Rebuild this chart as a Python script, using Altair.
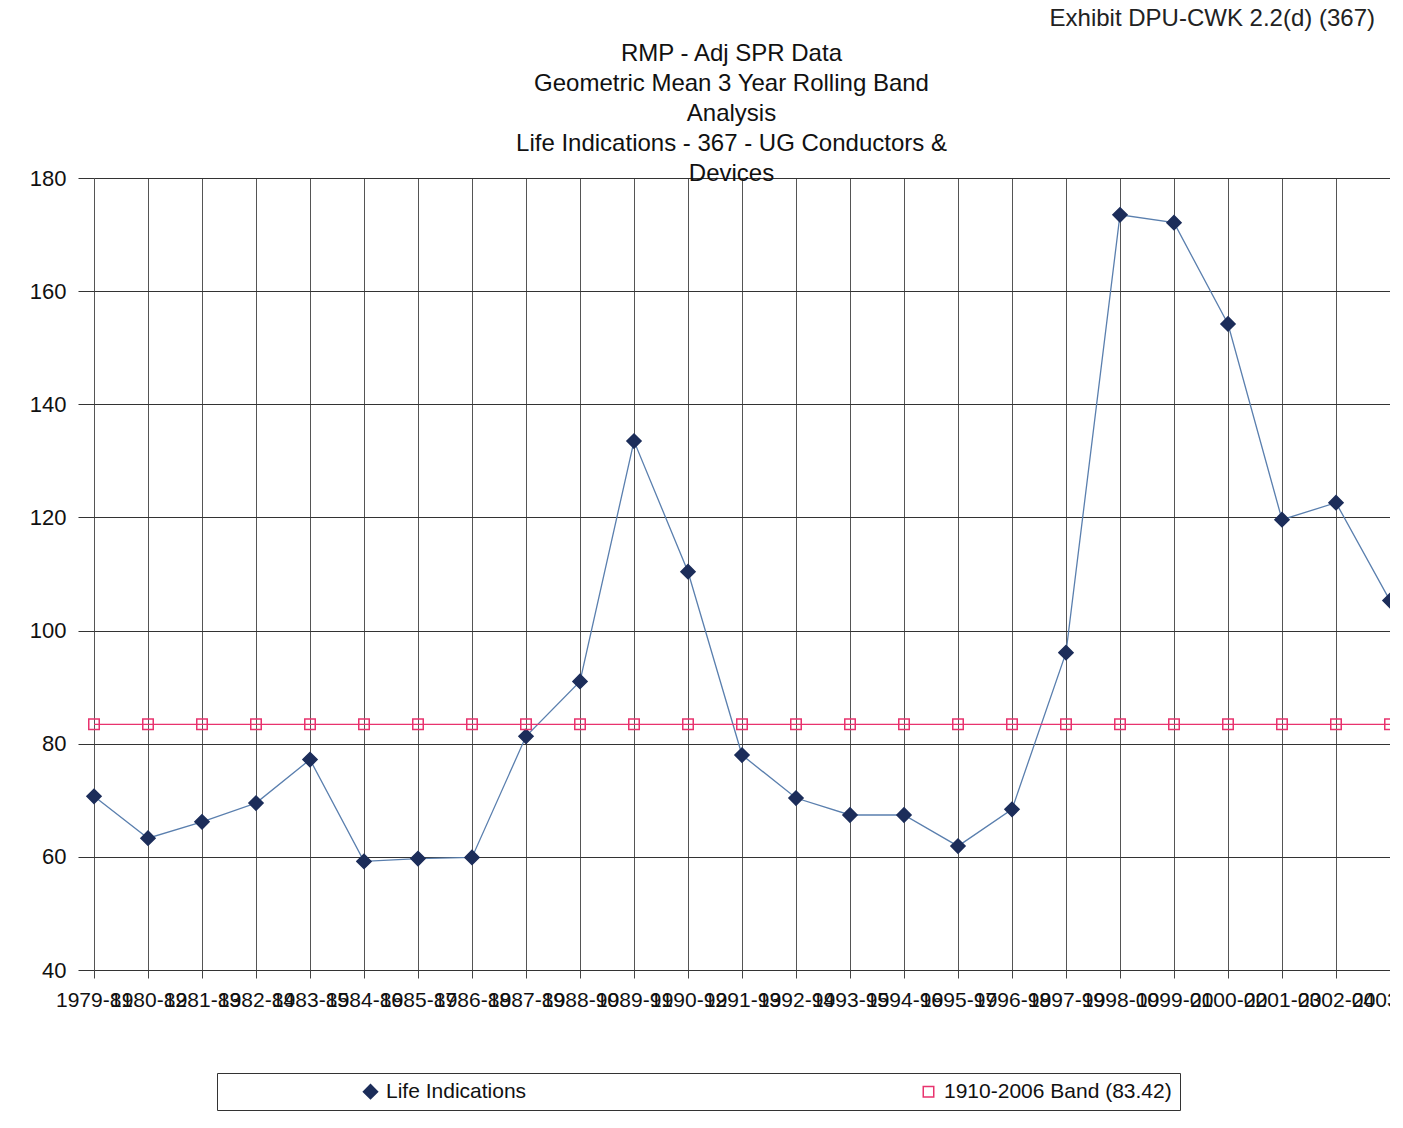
import altair as alt
import pandas as pd

periods = ["1979-81", "1980-82", "1981-83", "1982-84", "1983-85", "1984-86",
           "1985-87", "1986-88", "1987-89", "1988-90", "1989-91", "1990-92",
           "1991-93", "1992-94", "1993-95", "1994-96", "1995-97", "1996-98",
           "1997-99", "1998-00", "1999-01", "2000-02", "2001-03", "2002-04",
           "2003-05"]
life = [70.7, 63.3, 66.2, 69.5, 77.2, 59.2, 59.7, 59.9, 81.3, 91.0, 133.5, 110.4,
        78.0, 70.4, 67.4, 67.4, 61.9, 68.4, 96.1, 173.5, 172.1, 154.2, 119.6, 122.6,
        105.3]
band = [83.42, 83.42, 83.42, 83.42, 83.42, 83.42, 83.42, 83.42, 83.42, 83.42,
        83.42, 83.42, 83.42, 83.42, 83.42, 83.42, 83.42, 83.42, 83.42, 83.42,
        83.42, 83.42, 83.42, 83.42, 83.42]
series_names = ["Life Indications", "1910-2006 Band (83.42)"]
title_lines = ["RMP - Adj SPR Data", "Geometric Mean 3 Year Rolling Band", "Analysis",
               "Life Indications - 367 - UG Conductors &", "Devices"]
exhibit = "Exhibit DPU-CWK 2.2(d) (367)"
y_ticks = [40, 60, 80, 100, 120, 140, 160, 180]

rows = []
for i, (p, v) in enumerate(zip(periods, life)):
    rows.append({"period": p, "series": series_names[0], "value": v, "idx": i})
for i, (p, v) in enumerate(zip(periods, band)):
    rows.append({"period": p, "series": series_names[1], "value": v, "idx": i})
df = pd.DataFrame(rows)

FONT = "Liberation Sans"
SPACE_PAD = "\u2002" * 15

x = alt.X("period:N", sort=periods,
          scale=alt.Scale(type="point", padding=0),
          axis=alt.Axis(title=None, grid=True, gridColor="#555", gridWidth=1,
                        ticks=True, tickSize=8, tickColor="#444", domain=False,
                        labelAngle=0, labelOverlap=False, labelFontSize=21,
                        labelColor="#111", labelFont=FONT, labelPadding=11))
y = alt.Y("value:Q",
          scale=alt.Scale(domain=[40, 180], nice=False, zero=False),
          axis=alt.Axis(values=y_ticks, grid=True, gridColor="#333", gridWidth=1,
                        ticks=True, tickSize=16, tickColor="#333", domain=False,
                        labelFontSize=22, labelColor="#111", labelFont=FONT,
                        labelPadding=12,
                        title=title_lines, titleAngle=0, titleAlign="center",
                        titleBaseline="top", titleX=637, titleY=-137,
                        titleLineHeight=30,
                        titleFontSize=24, titleFontWeight="normal",
                        titleColor="#111", titleFont=FONT))

legend = alt.Legend(title=None, orient="none", legendX=123, legendY=895,
                    direction="horizontal", columns=2, columnPadding=256,
                    padding=8, strokeColor="#333", fillColor="white",
                    labelFontSize=21, labelColor="#111", labelFont=FONT,
                    symbolOffset=135, labelOffset=5, labelLimit=700,
                    labelExpr="datum.value == '" + series_names[1] + "' ? datum.label + '"
                              + SPACE_PAD + "' : datum.label")

line_life = alt.Chart(df).transform_filter(
    alt.datum.series == series_names[0]
).mark_line(strokeWidth=1.3, color="#5a7fae").encode(
    x=x, y=y, order=alt.Order("idx:Q"),
)

line_band = alt.Chart(df).transform_filter(
    alt.datum.series == series_names[1]
).mark_line(strokeWidth=1.2, color="#e8336e").encode(
    x=x, y=y, order=alt.Order("idx:Q"),
)

points = alt.Chart(df).mark_point(filled=False, strokeWidth=1.5, opacity=1).encode(
    x=x, y=y,
    shape=alt.Shape("series:N", scale=alt.Scale(domain=series_names,
                                                range=["diamond", "square"]),
                    legend=legend),
    fill=alt.Fill("series:N", scale=alt.Scale(domain=series_names,
                                              range=["#1c2d5a", "transparent"]),
                  legend=legend),
    stroke=alt.Stroke("series:N", scale=alt.Scale(domain=series_names,
                                                  range=["#1c2d5a", "#e8336e"]),
                      legend=legend),
    size=alt.Size("series:N", scale=alt.Scale(domain=series_names,
                                              range=[200, 110]),
                  legend=legend),
)

chart = alt.layer(line_life, line_band, points).properties(
    width=1296, height=792,
    title=alt.TitleParams(text=exhibit, fontSize=24, font=FONT,
                          fontWeight="normal", color="#222",
                          anchor="end", frame="group", dx=-15, offset=10),
    padding={"left": 86, "top": 170, "right": 0, "bottom": 143},
    autosize=alt.AutoSizeParams(type="none"),
).configure_view(stroke=None).configure(font=FONT, background="white")

chart.save("out.html", embed_options={"renderer": "svg", "actions": False})
